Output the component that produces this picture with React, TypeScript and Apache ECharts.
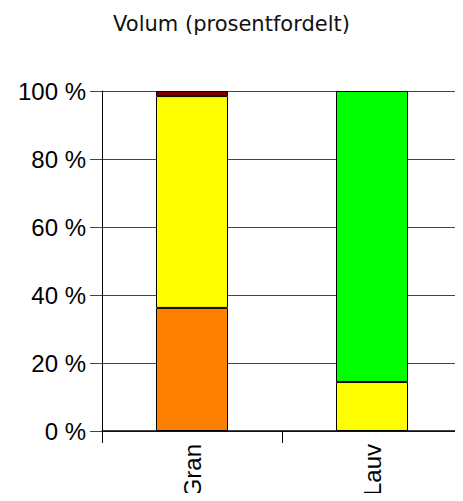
import React, { useEffect, useRef } from "react";
import * as echarts from "echarts";

const categories = ["Gran", "Lauv"];
const orangeValues = [36.2, null];
const yellowValues = [62.3, 14.4];
const brownValues = [1.5, null];
const greenValues = [null, 85.6];
const yTicks = [0, 20, 40, 60, 80, 100];

export default function App() {
  const ref = useRef<HTMLDivElement>(null);
  useEffect(() => {
    const chart = echarts.init(ref.current!, undefined, { renderer: "svg" });
    const mk = (name: string, data: (number | null)[], color: string) => ({
      name,
      type: "bar",
      stack: "s",
      data,
      barWidth: "40%",
      itemStyle: { color, borderColor: "#000", borderWidth: 1 },
    });
    chart.setOption({
      animation: false,
      title: {
        text: "Volum (prosentfordelt)",
        left: "center",
        top: 8,
        textStyle: { fontFamily: "DejaVu Sans", fontSize: 21, fontWeight: "normal", color: "#111" },
      },
      grid: { left: 102, right: 1, top: 91, bottom: 70, containLabel: false },
      xAxis: {
        type: "category",
        data: categories,
        axisLine: { show: true, lineStyle: { color: "#000", width: 1.5 } },
        axisTick: { show: true, length: 12, lineStyle: { color: "#000" } },
        axisLabel: { rotate: 90, fontSize: 24, fontFamily: "Liberation Sans", color: "#000", margin: 13 },
      },
      yAxis: {
        type: "value",
        min: yTicks[0],
        max: yTicks[yTicks.length - 1],
        interval: 20,
        axisLine: { show: true, lineStyle: { color: "#000" } },
        axisTick: { show: true, length: 12, lineStyle: { color: "#444" } },
        axisLabel: {
          fontSize: 24,
          fontFamily: "Liberation Sans",
          color: "#000",
          margin: 16,
          formatter: (v: number) => `${v} %`,
        },
        splitLine: { show: true, lineStyle: { color: "#444" } },
      },
      series: [
        mk("orange", orangeValues, "#FF8000"),
        mk("yellow", yellowValues, "#FFFF00"),
        mk("brown", brownValues, "#800000"),
        mk("green", greenValues, "#00FF00"),
      ],
    });
    return () => chart.dispose();
  }, []);
  return <div ref={ref} style={{ width: 463, height: 501, margin: -8 }} />;
}
